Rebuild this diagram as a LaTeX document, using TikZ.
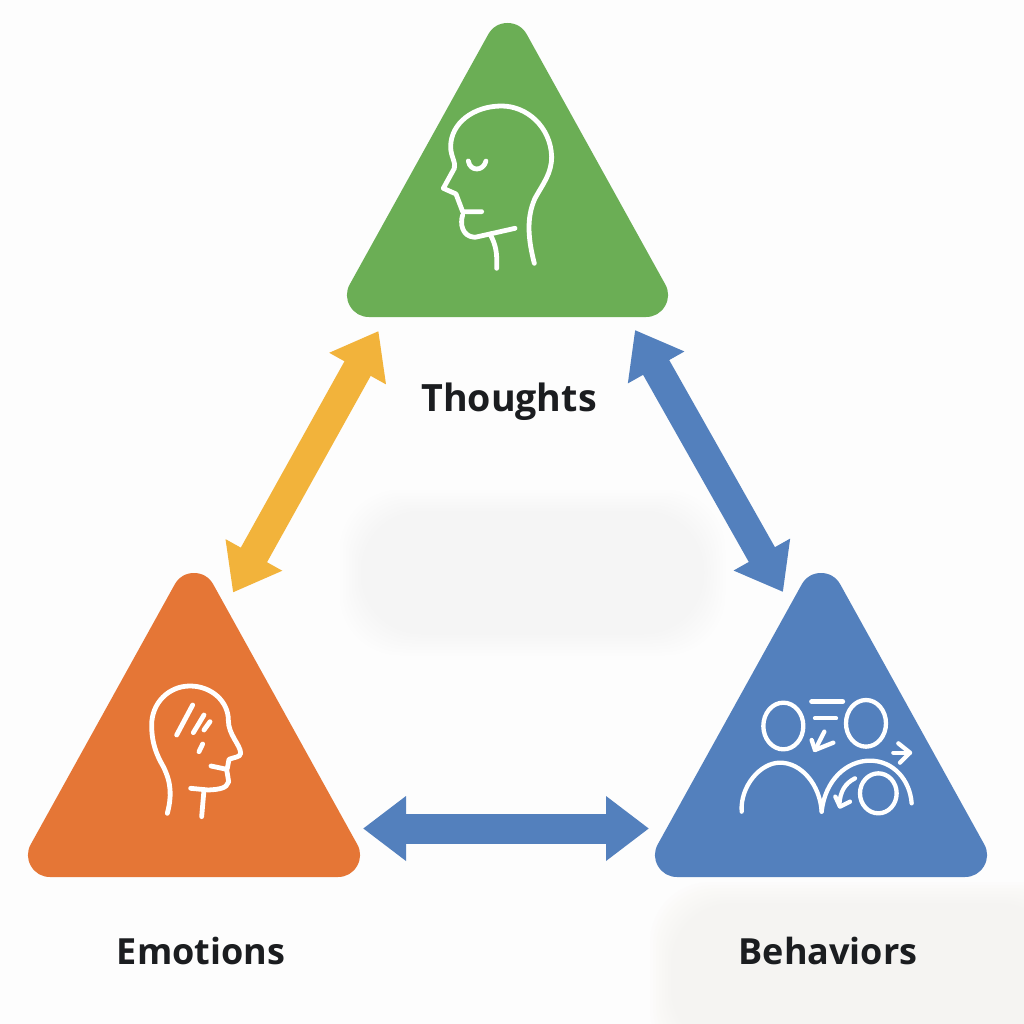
\documentclass[tikz,border=0pt]{standalone}
\usepackage{fontspec}
\setmainfont{Open Sans}
\usetikzlibrary{arrows.meta}
\definecolor{cgreen}{HTML}{6BAE55}
\definecolor{corange}{HTML}{E57636}
\definecolor{cblue}{HTML}{5380BD}
\definecolor{cyellow}{HTML}{F2B33B}
\definecolor{ctext}{HTML}{1B1D20}
\definecolor{cbg}{HTML}{FDFDFD}
\definecolor{csmudge}{HTML}{E6E8EA}
\definecolor{csmudgew}{HTML}{E8E5E0}
\tikzset{
  tri/.style={line width=44pt,line join=round},
  dbl/.style={line width=30pt,{Triangle[length=43pt,width=62pt]}-{Triangle[length=43pt,width=62pt]}},
  lbl/.style={font=\bfseries\fontsize{36}{40}\selectfont,text=ctext,inner sep=0pt,anchor=base},
  ico/.style={draw=white,line width=4.8pt,line cap=round,line join=round},
  icoi/.style={ico,line width=4.3pt},
}
\newcommand{\smudge}[6]{%
  \foreach \k in {0,...,7}{
    \fill[#6,opacity=0.045,rounded corners=#5pt]
      ({#1-\k*3},{#2-\k*3}) rectangle ({#3+\k*3},{#4+\k*3});
  }}
\begin{document}
\begin{tikzpicture}[x=1pt,y=-1pt]
\useasboundingbox (0,0) rectangle (1024,1024);
\fill[cbg] (0,0) rectangle (1024,1024);
% faint smudges
\smudge{361}{511}{704}{634}{60}{csmudge}
\begin{scope}
\clip (0,0) rectangle (1024,1024);
\smudge{671}{903}{1060}{1050}{60}{csmudgew}
\end{scope}
% triangles
\coordinate (gA) at (507.5,45); \coordinate (gL) at (369,295); \coordinate (gR) at (646,295);
\coordinate (oA) at (194,595);  \coordinate (oL) at (50,855);  \coordinate (oR) at (338,855);
\coordinate (bA) at (821,595);  \coordinate (bL) at (677,855); \coordinate (bR) at (965,855);
\filldraw[cgreen,tri] (gA) -- (gR) -- (gL) -- cycle;
\filldraw[corange,tri] (oA) -- (oR) -- (oL) -- cycle;
\filldraw[cblue,tri] (bA) -- (bR) -- (bL) -- cycle;
% arrows
\coordinate (y1) at (378.5,331); \coordinate (y2) at (233,592.5);
\coordinate (r1) at (635,330);   \coordinate (r2) at (783,592);
\coordinate (h1) at (363,828.5); \coordinate (h2) at (649,828.5);
\draw[cyellow,dbl] (y1) -- (y2);
\draw[cblue,dbl] (r1) -- (r2);
\draw[cblue,dbl] (h1) -- (h2);
% labels
\node[lbl,font=\bfseries\fontsize{37.6}{40}\selectfont] (thoughts) at (509,411) {Thoughts};
\node[lbl] (emotions) at (201,964) {Emotions};
\node[lbl] (behaviors) at (828,964) {Behaviors};
% green icon
\begin{scope}[shift={(420,90)},x=0.3333pt,y=-0.3333pt]
\draw[ico] (343,520) .. controls (325,450) and (318,385) .. (345,325) .. controls (370,280) and (395,250) .. (395,200) .. controls (392,110) and (320,48) .. (245,48) .. controls (160,48) and (92,100) .. (92,170) .. controls (92,200) and (108,215) .. (103,235) -- (70,295) -- (108,312) -- (128,365) -- (185,365);
\draw[ico] (128,375) .. controls (120,400) and (125,440) .. (165,442) -- (210,432) -- (285,415);
\draw[ico] (210,432) .. controls (228,465) and (232,490) .. (230,535);
\draw[ico] (145,213) .. controls (150,245) and (190,245) .. (198,213);
\end{scope}
% orange icon
\begin{scope}[shift={(130,670)},x=0.3333pt,y=-0.3333pt]
\draw[ico] (112,430) .. controls (125,380) and (125,340) .. (100,290) .. controls (80,255) and (65,220) .. (65,165) .. controls (65,100) and (115,48) .. (180,48) .. controls (245,48) and (295,95) .. (295,150) .. controls (295,195) and (332,225) .. (332,250) .. controls (332,262) and (310,262) .. (297,268) -- (292,295);
\draw[ico] (243,288) -- (290,298) -- (296,335) .. controls (290,355) and (270,358) .. (235,360) -- (182,355);
\draw[ico] (222,360) -- (215,440);
\draw[ico] (188,105) -- (140,195);
\draw[ico] (222,135) -- (190,188);
\draw[ico] (240,155) -- (222,180);
\draw[ico] (218,222) -- (207,245);
\end{scope}
% blue icon
\begin{scope}[shift={(730,690)},x=0.3333pt,y=-0.3333pt]
\draw[icoi] (160,108) ellipse [x radius=60,y radius=70];
\draw[icoi] (408,100) ellipse [x radius=60,y radius=70];
\draw[icoi,line width=5pt] (245,35) -- (338,35);
\draw[icoi] (255,85) -- (318,85);
\draw[icoi] (283,125) -- (255,180);
\draw[icoi] (245,150) -- (255,180) -- (310,158);
\draw[icoi] (490,188) -- (540,188);
\draw[icoi] (505,160) -- (540,188) -- (510,218);
\draw[icoi] (35,365) .. controls (30,290) and (90,218) .. (150,218) .. controls (215,218) and (270,285) .. (275,365);
\draw[icoi] (275,365) .. controls (285,270) and (350,212) .. (420,212) .. controls (490,212) and (540,270) .. (545,340);
\draw[icoi] (445,310) ellipse [x radius=55,y radius=60];
\draw[icoi] (375,265) .. controls (345,280) and (330,305) .. (328,345);
\draw[icoi] (316,320) -- (330,350) -- (360,335);
\end{scope}
\end{tikzpicture}
\end{document}
